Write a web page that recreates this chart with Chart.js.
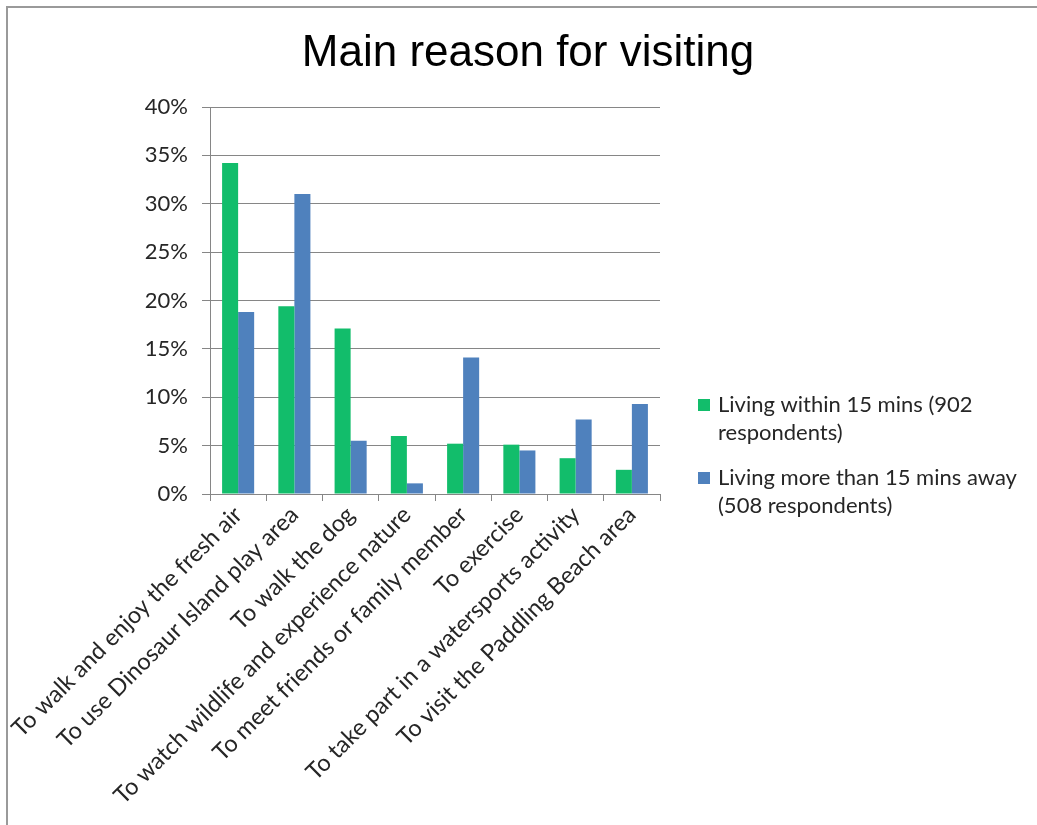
<!DOCTYPE html>
<html>
<head>
<meta charset="utf-8">
<script src="https://cdn.jsdelivr.net/npm/chart.js@4"></script>
<style>
  html, body { margin: 0; padding: 0; background: #fff; }
  #wrap { position: relative; width: 1037px; height: 825px; }
  #frame { position: absolute; left: 6px; top: 6px; right: 0; bottom: 0; border-top: 2px solid #9a9a9a; border-left: 2px solid #9a9a9a; }
  canvas { position: absolute; left: 0; top: 0; }
</style>
</head>
<body>
<div id="wrap">
  <div id="frame"></div>
  <canvas id="chart" width="1037" height="825"></canvas>
</div>
<script>
const categorias = [
  'To walk and enjoy the fresh air',
  'To use Dinosaur Island play area',
  'To walk the dog',
  'To watch wildlife and experience nature',
  'To meet friends or family member',
  'To exercise',
  'To take part in a watersports activity',
  'To visit the Paddling Beach area'
];
const perto = [34.2, 19.4, 17.1, 6.0, 5.2, 5.1, 3.7, 2.5];
const longe = [18.8, 31.0, 5.5, 1.1, 14.1, 4.5, 7.7, 9.3];
const serieNomes = [
  ['Living within 15 mins (902', 'respondents)'],
  ['Living more than 15 mins away', '(508 respondents)']
];
const cores = ['#12bd6b', '#4f81bd'];

const fonte = 'Lato, "Liberation Sans", sans-serif';
const cinza = '#868686';

// titulo e legenda desenhados a mao
const extras = {
  id: 'extras',
  afterDraw(chart) {
    const c = chart.ctx;
    c.save();
    c.fillStyle = '#000';
    c.font = '44px "Liberation Sans", Arial, sans-serif';
    c.textAlign = 'center';
    c.textBaseline = 'alphabetic';
    c.fillText('Main reason for visiting', 528, 66);

    const x0 = chart.chartArea.right + 38;
    const ys = [405, 478];
    c.font = '22px ' + fonte;
    c.textAlign = 'left';
    c.textBaseline = 'middle';
    serieNomes.forEach((linhas, i) => {
      c.fillStyle = cores[i];
      c.fillRect(x0, ys[i] - 6, 12, 12);
      c.fillStyle = '#262626';
      linhas.forEach((t, j) => c.fillText(t, x0 + 20, ys[i] + j * 28));
    });
    c.restore();
  }
};

new Chart(document.getElementById('chart').getContext('2d'), {
  type: 'bar',
  data: {
    labels: categorias,
    datasets: [
      { label: serieNomes[0].join(' '), data: perto, backgroundColor: cores[0] },
      { label: serieNomes[1].join(' '), data: longe, backgroundColor: cores[1] }
    ]
  },
  options: {
    responsive: false,
    animation: false,
    layout: { padding: { top: 107, right: 377, left: 0, bottom: 0 } },
    datasets: { bar: { categoryPercentage: 0.57, barPercentage: 1.0 } },
    plugins: {
      legend: { display: false },
      title: { display: false },
      tooltip: { enabled: false }
    },
    scales: {
      x: {
        offset: true,
        grid: { display: true, offset: true, drawOnChartArea: false, color: cinza, tickLength: 7 },
        border: { color: cinza },
        ticks: {
          autoSkip: false, minRotation: 45, maxRotation: 45, padding: 0,
          color: '#262626', font: { family: fonte, size: 23.5 }
        },
        afterFit: s => { s.height = 825 - 494; }
      },
      y: {
        min: 0, max: 40,
        grid: { color: cinza, tickLength: 8 },
        border: { color: cinza },
        ticks: {
          stepSize: 5, padding: 14,
          color: '#262626', font: { family: fonte, size: 22 },
          callback: v => v + '%'
        },
        afterFit: s => { s.width = 210; }
      }
    }
  },
  plugins: [extras]
});
</script>
</body>
</html>
